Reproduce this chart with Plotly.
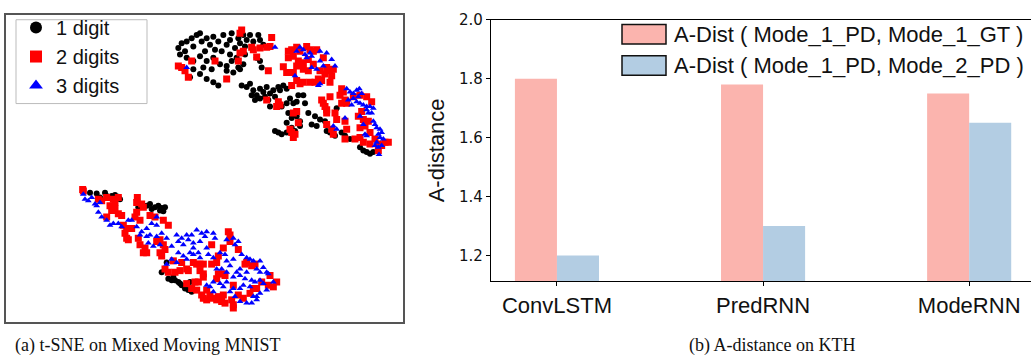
import plotly.graph_objects as go

# ---------------- data: t-SNE embedding (image-space coordinates) ----------------
one_digit = [
    (535,120),(545,105),(555,130),(560,100),(575,90),(580,115),(590,80),(600,75),(605,100),(615,130),
    (620,90),(630,110),(640,85),(645,125),(655,100),(665,130),(670,80),(680,110),(690,95),(695,75),
    (705,120),(715,90),(720,105),(730,80),(735,115),(740,95),(750,80),(760,100),(775,80),(780,95),
    (790,110),(540,140),(560,150),(580,160),(600,145),(620,160),(640,150),(660,170),(680,175),(695,160),
    (715,180),(730,170),(580,185),(600,200),(620,215),(640,225),(655,235),(680,190),(700,195),(720,185),
    (570,210),(610,180),(635,185),(725,235),(740,240),(750,230),(760,250),(770,265),(780,245),(790,255),
    (800,240),(810,260),(820,250),(835,240),(850,235),(860,245),(755,265),(765,280),(780,275),(795,270),
    (805,280),(825,270),(835,285),(845,300),(860,290),(870,275),(880,290),(890,285),(895,265),(910,265),
    (865,320),(875,335),(890,330),(900,345),(915,290),(860,350),(875,365),(885,375),(825,375),(835,380),
    (845,385),(860,380),(935,355),(945,330),(960,340),(975,345),(980,375),(990,380),(1005,390),(1025,380),
    (1035,390),(1050,400),(1080,425),(1090,435),(1100,440),(1110,445),(1120,440),(1010,305),(925,320),
    (950,360),(900,360),(840,250),(810,300),(780,160),(785,180),(770,150),(735,140),(710,150),(690,140),
    (270,565),(290,568),(315,565),(320,575),(335,575),(345,572),(355,578),(300,580),(360,585),(415,610),
    (440,605),(450,600),(465,610),(475,605),(485,612),(490,622),(495,610),(455,615),(480,620),
    (500,780),(495,800),(485,810),(505,830),(515,835),(525,835),(535,840),(545,850),(555,860),(565,865),
    (575,870),(520,825),(570,840),(540,845),
]

two_digits = [
    (725,65),(720,75),(815,88),(755,118),(760,125),(780,120),(800,118),(810,115),(720,135),(730,130),
    (770,148),(715,160),(645,160),(575,160),(535,175),(545,180),(555,190),(565,210),(680,215),(805,190),
    (850,178),(865,130),(875,125),(890,118),(900,130),(920,115),(930,125),(940,130),(950,125),(865,150),
    (880,145),(895,160),(910,165),(925,155),(860,195),(880,195),(890,175),(910,185),(925,190),(940,170),
    (960,190),(970,150),(980,180),(990,190),(995,205),(1000,185),(975,200),(955,215),(945,225),(930,225),
    (910,225),(900,230),(890,220),(875,235),(965,220),(990,225),(835,285),(830,300),(840,295),(800,280),
    (880,320),(890,315),(895,350),(875,380),(880,395),(885,385),(870,370),(965,280),(970,290),(975,300),
    (980,310),(990,270),(980,320),(1005,320),(1010,340),(1025,245),(1030,255),(1020,265),(1035,280),
    (1025,290),(1040,290),(1060,270),(1080,265),(1100,270),(1115,285),(1085,315),(1075,330),(1090,340),
    (1105,345),(1035,345),(1040,370),(1080,365),(1095,360),(1110,380),(1065,400),(1080,395),(1090,410),
    (1110,415),(1125,400),(1135,415),(1145,420),(1155,410),(1165,410),(1135,435),(1000,385),(995,370),
    (1035,400),(980,355),
    (248,555),(250,560),(295,585),(305,590),(320,580),(340,585),(345,595),(355,580),(330,605),(335,620),
    (345,615),(355,630),(365,635),(320,640),(412,580),(410,595),(425,600),(430,610),(410,625),(405,640),
    (420,650),(450,635),(465,640),(490,650),(505,665),(370,665),(380,675),(395,675),(375,690),(380,705),
    (385,710),(415,705),(420,725),(435,735),(440,750),(430,750),(470,715),(480,710),(490,725),(480,750),
    (485,760),(495,740),(520,775),(495,800),(505,810),(525,810),(540,805),(545,780),(560,800),(565,805),
    (580,780),(590,785),(600,785),(610,785),(635,785),(650,780),(635,725),(655,760),(670,735),(685,685),
    (690,695),(690,715),(715,740),(735,785),(740,780),(755,790),(765,785),(600,805),(610,815),(610,825),
    (650,830),(655,815),(670,815),(675,820),(585,840),(595,840),(560,845),(575,860),(590,865),(620,865),
    (605,880),(610,890),(620,895),(630,880),(640,890),(655,885),(670,880),(665,900),(675,905),(650,895),
    (695,895),(700,910),(700,920),(700,850),(715,880),(730,890),(750,875),(760,860),(770,860),(785,840),
    (805,850),(810,820),(820,855),(830,840),
]

three_digits = [
    (825,118),(560,180),(900,118),(910,125),(890,130),(915,140),(930,135),(935,145),(920,150),(960,130),
    (980,135),(995,155),(1005,175),(960,160),(970,175),(950,185),(935,180),(885,205),(955,235),(960,230),
    (1040,245),(1050,255),(1060,260),(1070,250),(1078,245),(1085,260),(1075,270),(1060,275),(1045,280),
    (1055,295),(1070,285),(1080,290),(1090,295),(1100,300),(1110,300),(1120,305),(1115,320),(1105,320),
    (1100,310),(1120,345),(1125,355),(1130,365),(1140,370),(1135,385),(1145,380),(1140,395),(1150,400),
    (1130,410),(1125,420),(1135,425),(1145,420),(1090,355),(1100,390),(1000,360),(1010,370),(1035,335),
    (1080,330),(1095,385),(1137,448),
    (250,570),(255,585),(265,590),(275,580),(285,600),(290,605),(300,595),(295,625),(305,640),(320,650),
    (330,665),(340,660),(355,660),(365,670),(385,650),(395,650),(410,670),(425,685),(440,675),(455,660),
    (470,640),(470,665),(485,690),(470,700),(450,695),(440,700),(420,695),(445,720),(460,730),(480,725),
    (500,705),(515,730),(530,695),(535,715),(545,705),(550,725),(560,695),(565,710),(575,695),(580,720),
    (590,680),(605,690),(615,700),(620,685),(640,690),(645,705),(600,715),(580,735),(570,750),(560,770),
    (550,760),(535,750),(530,780),(500,785),(515,770),(580,755),(595,750),(620,735),(600,765),(625,755),
    (640,765),(660,750),(675,755),(680,710),(700,705),(715,715),(705,725),(725,755),(740,765),(750,770),
    (760,775),(780,775),(790,795),(800,810),(805,815),(780,810),(770,800),(740,810),(720,800),(710,810),
    (700,825),(680,810),(690,790),(700,770),(720,820),(735,830),(755,835),(765,840),(780,835),(790,845),
    (820,840),(800,865),(780,875),(770,895),(755,905),(740,905),(720,900),(705,885),(690,870),(670,855),
    (660,845),(640,840),(630,855),(620,850),(640,870),(680,840),(730,850),(750,855),(720,860),(700,860),
    (760,885),(770,885),(665,800),(650,800),(680,775),
]

# ---------------- data: A-distance on KTH ----------------
models = ["ConvLSTM", "PredRNN", "ModeRNN"]
adist_gt = [1.80, 1.78, 1.75]
adist_pd = [1.20, 1.30, 1.65]
series_names = ["A-Dist ( Mode_1_PD, Mode_1_GT )", "A-Dist ( Mode_1_PD, Mode_2_PD )"]
yticks = [1.2, 1.4, 1.6, 1.8, 2.0]

W, H = 1031, 360
SANS = "Liberation Sans, Arial, Helvetica, sans-serif"
SERIF = "Liberation Serif, Times New Roman, serif"
PINK, BLUE = "#fbb4ae", "#b3cde3"

def px(x):
    return x / W

def py(y):
    return 1 - y / H

fig = go.Figure()

for pts, name, sym, col, size in [
    (one_digit, "1 digit", "circle", "#000000", 6),
    (two_digits, "2 digits", "square", "#ff0000", 7),
    (three_digits, "3 digits", "triangle-up", "#0000ff", 6),
]:
    fig.add_trace(go.Scatter(
        x=[p[0] for p in pts], y=[p[1] for p in pts], mode="markers", name=name,
        marker=dict(symbol=sym, color=col, size=size, line=dict(width=0)),
        xaxis="x", yaxis="y", legend="legend",
    ))

fig.add_trace(go.Bar(x=models, y=adist_gt, name=series_names[0], marker=dict(color=PINK, line=dict(width=0)),
                     xaxis="x2", yaxis="y2", showlegend=False))
fig.add_trace(go.Bar(x=models, y=adist_pd, name=series_names[1], marker=dict(color=BLUE, line=dict(width=0)),
                     xaxis="x2", yaxis="y2", showlegend=False))

shapes = []
annotations = []

# frame of the scatter legend (matplotlib-style)
shapes.append(dict(type="rect", xref="paper", yref="paper", layer="above",
                   x0=px(16), x1=px(147), y0=py(97), y1=py(11),
                   fillcolor="white", line=dict(color="#bbb", width=1)))

# bar legend (matplotlib-style patches)
for i, (name, col) in enumerate(zip(series_names, [PINK, BLUE])):
    top = 16 + i * 32
    shapes.append(dict(type="rect", xref="paper", yref="paper",
                       x0=px(622), x1=px(666), y0=py(top + 20), y1=py(top),
                       fillcolor=col, line=dict(color="#111", width=1.5)))
    annotations.append(dict(xref="paper", yref="paper", x=px(672), y=py(top + 10),
                            xanchor="left", yanchor="middle", showarrow=False,
                            text=name, font=dict(family=SANS, size=22, color="#111")))

# captions
annotations.append(dict(xref="paper", yref="paper", x=px(147), y=py(345), xanchor="center", yanchor="middle",
                        showarrow=False, text="(a) t-SNE on Mixed Moving MNIST",
                        font=dict(family=SERIF, size=18, color="#111")))
annotations.append(dict(xref="paper", yref="paper", x=px(772), y=py(345), xanchor="center", yanchor="middle",
                        showarrow=False, text="(b) A-distance on KTH",
                        font=dict(family=SERIF, size=18, color="#111")))

fig.update_layout(
    width=W, height=H, margin=dict(l=0, r=0, t=0, b=0),
    paper_bgcolor="white", plot_bgcolor="white",
    barmode="group", bargap=0.592, bargroupgap=0,
    xaxis=dict(domain=[px(6), px(403)], range=[18, 1209], showgrid=False, zeroline=False,
               showticklabels=False, ticks="", showline=True, linecolor="#555", linewidth=2, mirror=True),
    yaxis=dict(domain=[py(321), py(6)], range=[963, 18], showgrid=False, zeroline=False,
               showticklabels=False, ticks="", showline=True, linecolor="#555", linewidth=2, mirror=True),
    xaxis2=dict(domain=[px(491), 1.0], range=[-0.32, 2.30], anchor="y2", type="category",
                showgrid=False, zeroline=False, showline=True, linecolor="black", linewidth=1.3, mirror=True,
                ticks="outside", ticklen=4, tickcolor="black",
                tickfont=dict(family=SANS, size=22, color="#111")),
    yaxis2=dict(domain=[py(279), py(11)], range=[1.113, 2.0], anchor="x2",
                tickvals=yticks, ticktext=[f"{v:.1f}" for v in yticks],
                showgrid=False, zeroline=False, showline=True, linecolor="black", linewidth=1.3,
                ticks="outside", ticklen=4, tickcolor="black",
                tickfont=dict(family="DejaVu Sans, sans-serif", size=15, color="#111"),
                title=dict(text="A-distance", font=dict(family=SANS, size=22, color="#111"), standoff=8)),
    legend=dict(x=px(16), y=py(-1), xanchor="left", yanchor="top", bgcolor="rgba(0,0,0,0)",
                borderwidth=0, itemsizing="constant",
                font=dict(family=SANS, size=20, color="#111"), tracegroupgap=0),
    shapes=shapes, annotations=annotations,
)

fig.write_html(
    "out.html",
    config={"displayModeBar": False},
    post_script="document.documentElement.style.margin='0';document.body.style.margin='0';"
                "document.body.style.overflow='hidden';",
)
